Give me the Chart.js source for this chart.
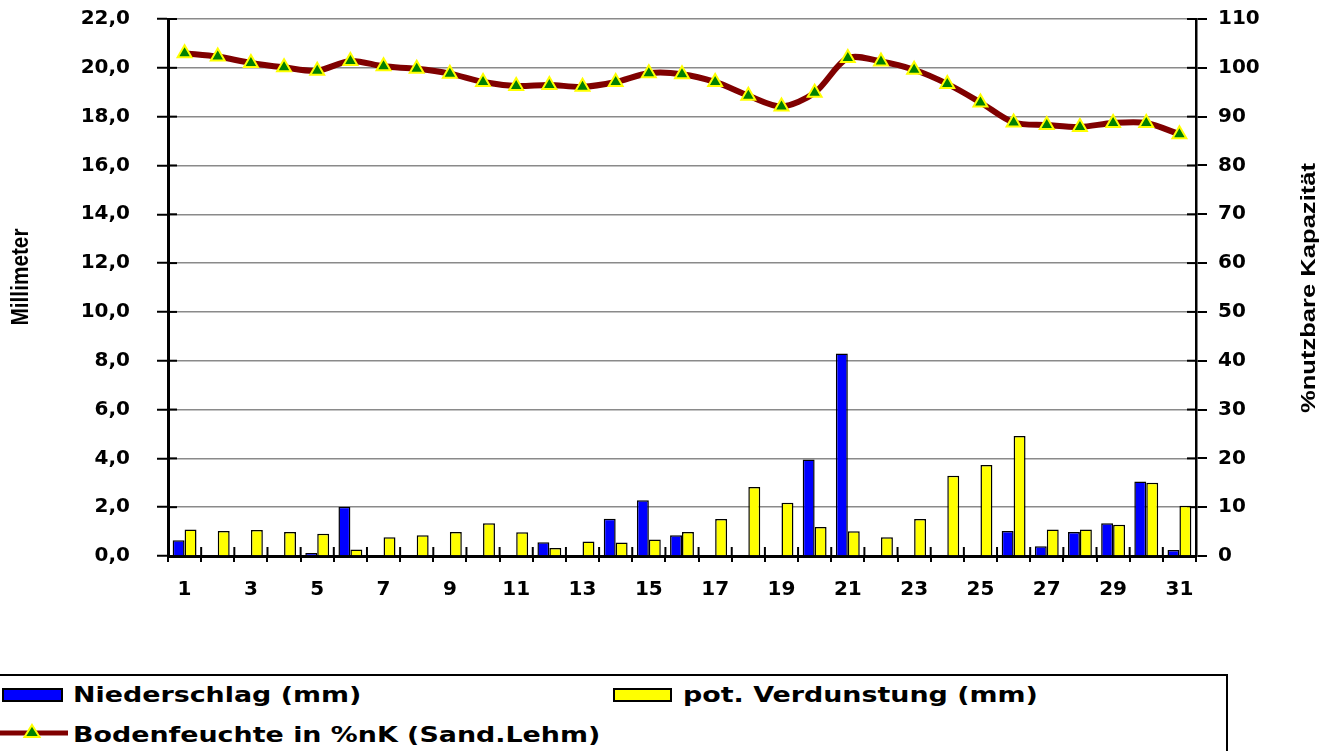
<!DOCTYPE html>
<html><head><meta charset="utf-8">
<script src="https://cdn.jsdelivr.net/npm/chart.js@4.4.0/dist/chart.umd.min.js"></script>
<style>
html,body{margin:0;padding:0;background:#fff;}
#wrap{position:relative;width:1336px;height:751px;overflow:hidden;background:#fff;}
canvas{position:absolute;left:0;top:0;}
#legendBox{position:absolute;left:-3px;top:674px;width:1231px;height:100px;border:2px solid #000;box-sizing:border-box;background:#fff;}
.lt{position:absolute;font-family:"DejaVu Sans",sans-serif;font-weight:bold;font-size:21px;line-height:24px;white-space:nowrap;transform-origin:0 50%;transform:scaleX(1.28);color:#000;}
.sw{position:absolute;box-sizing:border-box;border:2px solid #000;}
</style></head>
<body><div id="wrap"><canvas id="c" width="1336" height="751"></canvas>
<div id="legendBox"></div>
<div class="sw" id="sw0" style="left:2px;top:688px;width:61px;height:14px;"></div>
<div class="lt" id="lt0" style="left:73px;top:683px;"></div>
<div class="sw" id="sw1" style="left:613px;top:688px;width:59px;height:14px;"></div>
<div class="lt" id="lt1" style="left:683px;top:683px;"></div>
<svg id="sw2" style="position:absolute;left:0;top:722px;" width="68" height="22"></svg>
<div class="lt" id="lt2" style="left:73px;top:723px;"></div>
</div>
<script>
// ---- data ----
const days = ['1','2','3','4','5','6','7','8','9','10','11','12','13','14','15','16','17','18','19','20','21','22','23','24','25','26','27','28','29','30','31'];
const niederschlag = [0.65,0,0,0,0.12,2.02,0,0,0,0,0,0.56,0,1.53,2.28,0.85,0,0,0,3.95,8.3,0,0,0,0,1.02,0.4,0.98,1.34,3.05,0.25];
const verdunstung = [1.09,1.02,1.07,0.98,0.91,0.27,0.77,0.85,0.98,1.34,0.97,0.33,0.59,0.55,0.68,0.98,1.52,2.83,2.18,1.19,1.01,0.77,1.52,3.29,3.73,4.92,1.09,1.09,1.28,3.0,2.06];
const bodenfeuchte = [103.0,102.3,101.0,100.1,99.4,101.4,100.3,99.8,98.8,97.1,96.3,96.5,96.1,97.1,98.9,98.7,97.1,94.3,92.1,94.9,102.0,101.3,99.6,96.7,92.9,88.8,88.3,87.9,88.7,88.7,86.4];
const leftTickLabels = ['0,0','2,0','4,0','6,0','8,0','10,0','12,0','14,0','16,0','18,0','20,0','22,0'];
const rightTickLabels = ['0','10','20','30','40','50','60','70','80','90','100','110'];
const seriesNames = ['Niederschlag (mm)','pot. Verdunstung (mm)','Bodenfeuchte in %nK (Sand.Lehm)'];
const leftTitle = 'Millimeter';
const rightTitle = '%nutzbare Kapazität';

const BLUE = '#0000ff', YELLOW = '#ffff00', MAROON = '#800000', GREEN = '#008000';
const tickFont = {family:'DejaVu Sans', weight:'bold', size:20};

function drawRotTitle(ctx, text, cx, cy, target, font){
  ctx.save();
  ctx.translate(cx, cy);
  ctx.rotate(-Math.PI/2);
  ctx.font = font;
  const w = ctx.measureText(text).width;
  ctx.scale(target / w, 1);
  ctx.fillStyle = '#000';
  ctx.textAlign = 'center';
  ctx.textBaseline = 'middle';
  ctx.fillText(text, 0, 0);
  ctx.restore();
}

const extras = {
  id: 'extras',
  beforeDatasetsDraw(chart){
    const ctx = chart.ctx;
    const x = chart.scales.x, yl = chart.scales.y, yr = chart.scales.y1;
    ctx.save();
    ctx.strokeStyle = '#000'; ctx.lineWidth = 2;
    yl.ticks.forEach((t,i)=>{ const py = yl.getPixelForTick(i); ctx.beginPath(); ctx.moveTo(yl.right, py); ctx.lineTo(yl.right + 9, py); ctx.stroke(); });
    yr.ticks.forEach((t,i)=>{ const py = yr.getPixelForTick(i); ctx.beginPath(); ctx.moveTo(yr.left - 9, py); ctx.lineTo(yr.left, py); ctx.stroke(); });
    const n = x.ticks.length, w = (x.right - x.left) / n;
    for (let i = 1; i < n; i++) { const px = x.left + i * w; ctx.beginPath(); ctx.moveTo(px, x.top - 9); ctx.lineTo(px, x.top); ctx.stroke(); }
    ctx.restore();
  },
  afterDraw(chart){
    const ctx = chart.ctx;
    drawRotTitle(ctx, leftTitle, 22, 277, 97, 'bold 23px "Liberation Sans Narrow", "Liberation Sans", Arial');
    drawRotTitle(ctx, rightTitle, 1309, 288, 250, 'bold 20px "Liberation Sans Narrow", "Liberation Sans", Arial');
  }
};

function fixY(width){
  return (s)=>{ s.width = width; s.paddingTop = 0; s.paddingBottom = 0; };
}

const chart = new Chart(document.getElementById('c'), {
  data: {
    labels: days,
    datasets: [
      {type:'line', label: seriesNames[2], data: bodenfeuchte, yAxisID:'y1', order:0,
       borderColor: MAROON, borderWidth: 6, tension: 0.3, fill:false,
       pointStyle:'triangle', pointRadius: 8, pointBackgroundColor: GREEN, pointBorderColor: YELLOW, pointBorderWidth: 2},
      {type:'bar', label: seriesNames[0], data: niederschlag, yAxisID:'y', order:1,
       backgroundColor: BLUE, borderColor:'#000', borderWidth:1.5, categoryPercentage:0.72, barPercentage:1.0},
      {type:'bar', label: seriesNames[1], data: verdunstung, yAxisID:'y', order:1,
       backgroundColor: YELLOW, borderColor:'#000', borderWidth:1.5, categoryPercentage:0.72, barPercentage:1.0}
    ]
  },
  options: {
    responsive:false, animation:false, devicePixelRatio:1,
    layout:{padding:{top:19, bottom:135, left:0, right:0}},
    plugins:{legend:{display:false}, tooltip:{enabled:false}, title:{display:false}},
    scales:{
      x:{type:'category', offset:true,
         grid:{offset:true, drawOnChartArea:false, color:'#000', lineWidth:2, tickLength:6},
         border:{display:true, color:'#000', width:3},
         ticks:{autoSkip:false, maxRotation:0, minRotation:0, padding:16, color:'#000',
                font:{family:'DejaVu Sans', weight:'bold', size:20},
                callback:(v,i)=> (i % 2 === 0 ? days[i] : '')},
         afterFit:(s)=>{ s.height = 60; }},
      y:{position:'left', min:0, max:22,
         grid:{color:'#8a8a8a', lineWidth:1.5, tickColor:'#000', tickWidth:2, tickLength:11},
         border:{display:true, color:'#000', width:3},
         ticks:{stepSize:2, padding:27, color:'#000', font:tickFont,
                callback:(v,i)=> leftTickLabels[i]},
         afterFit: fixY(168)},
      y1:{position:'right', min:0, max:110,
         grid:{drawOnChartArea:false, color:'#000', lineWidth:2, tickLength:11},
         border:{display:true, color:'#000', width:2.5},
         ticks:{stepSize:10, padding:11, color:'#000', font:tickFont,
                callback:(v,i)=> rightTickLabels[i]},
         afterFit: fixY(140)}
    }
  },
  plugins:[extras]
});

// ---- HTML legend built from the chart datasets ----
const ds = chart.data.datasets;
document.getElementById('sw0').style.background = ds[1].backgroundColor;
document.getElementById('lt0').textContent = ds[1].label;
document.getElementById('sw1').style.background = ds[2].backgroundColor;
document.getElementById('lt1').textContent = ds[2].label;
document.getElementById('lt2').textContent = ds[0].label;
document.getElementById('sw2').innerHTML =
  '<line x1="0" y1="11" x2="68" y2="11" stroke="'+ds[0].borderColor+'" stroke-width="5"/>' +
  '<polygon points="32,3 39.5,15 24.5,15" fill="'+ds[0].pointBackgroundColor+'" stroke="'+ds[0].pointBorderColor+'" stroke-width="2"/>';
</script>
</body></html>
